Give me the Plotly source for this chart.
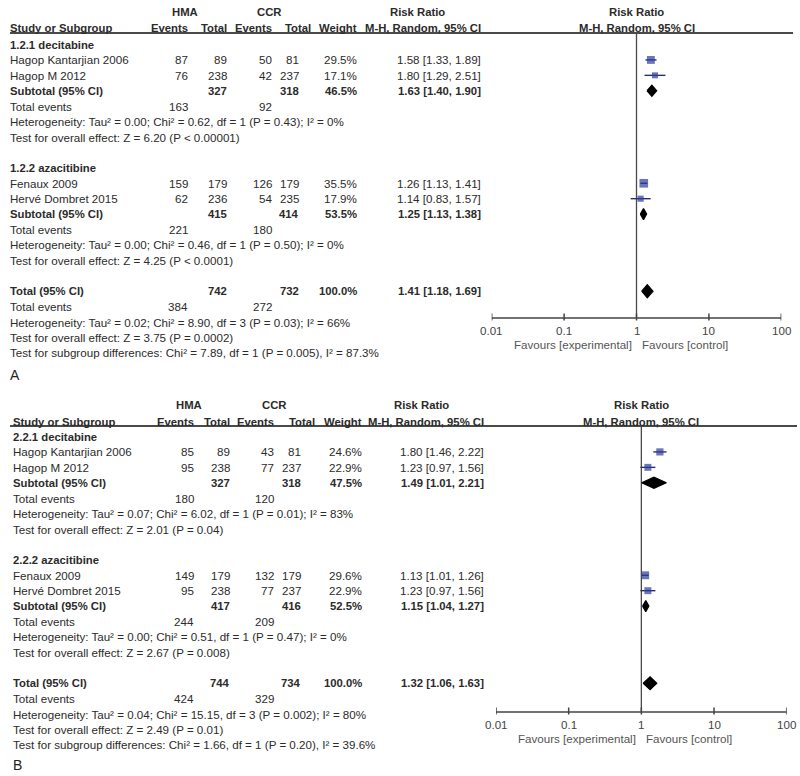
import math
import plotly.graph_objects as go

# ---------------- DATA ----------------
studies = ["Hagop Kantarjian 2006", "Hagop M 2012", "Fenaux 2009", "Hervé Dombret 2015"]
study_group = [0, 0, 1, 1]

# Panel A
groups_A = ["1.2.1 decitabine", "1.2.2 azacitibine"]
hma_events_A = [87, 76, 159, 62]
hma_total_A = [89, 238, 179, 236]
ccr_events_A = [50, 42, 126, 54]
ccr_total_A = [81, 237, 179, 235]
weight_A = [29.5, 17.1, 35.5, 17.9]
rr_A = [1.58, 1.80, 1.26, 1.14]
lo_A = [1.33, 1.29, 1.13, 0.83]
hi_A = [1.89, 2.51, 1.41, 1.57]
sub_hma_total_A = [327, 415]
sub_ccr_total_A = [318, 414]
sub_weight_A = [46.5, 53.5]
sub_rr_A = [1.63, 1.25]
sub_lo_A = [1.40, 1.13]
sub_hi_A = [1.90, 1.38]
sub_hma_events_A = [163, 221]
sub_ccr_events_A = [92, 180]
sub_het_A = ["Heterogeneity: Tau² = 0.00; Chi² = 0.62, df = 1 (P = 0.43); I² = 0%",
             "Heterogeneity: Tau² = 0.00; Chi² = 0.46, df = 1 (P = 0.50); I² = 0%"]
sub_test_A = ["Test for overall effect: Z = 6.20 (P < 0.00001)",
              "Test for overall effect: Z = 4.25 (P < 0.0001)"]
tot_A = dict(hma_total=742, ccr_total=732, weight=100.0, rr=1.41, lo=1.18, hi=1.69,
             hma_events=384, ccr_events=272)
tot_notes_A = ["Heterogeneity: Tau² = 0.02; Chi² = 8.90, df = 3 (P = 0.03); I² = 66%",
               "Test for overall effect: Z = 3.75 (P = 0.0002)",
               "Test for subgroup differences: Chi² = 7.89, df = 1 (P = 0.005), I² = 87.3%"]

# Panel B
groups_B = ["2.2.1 decitabine", "2.2.2 azacitibine"]
hma_events_B = [85, 95, 149, 95]
hma_total_B = [89, 238, 179, 238]
ccr_events_B = [43, 77, 132, 77]
ccr_total_B = [81, 237, 179, 237]
weight_B = [24.6, 22.9, 29.6, 22.9]
rr_B = [1.80, 1.23, 1.13, 1.23]
lo_B = [1.46, 0.97, 1.01, 0.97]
hi_B = [2.22, 1.56, 1.26, 1.56]
sub_hma_total_B = [327, 417]
sub_ccr_total_B = [318, 416]
sub_weight_B = [47.5, 52.5]
sub_rr_B = [1.49, 1.15]
sub_lo_B = [1.01, 1.04]
sub_hi_B = [2.21, 1.27]
sub_hma_events_B = [180, 244]
sub_ccr_events_B = [120, 209]
sub_het_B = ["Heterogeneity: Tau² = 0.07; Chi² = 6.02, df = 1 (P = 0.01); I² = 83%",
             "Heterogeneity: Tau² = 0.00; Chi² = 0.51, df = 1 (P = 0.47); I² = 0%"]
sub_test_B = ["Test for overall effect: Z = 2.01 (P = 0.04)",
              "Test for overall effect: Z = 2.67 (P = 0.008)"]
tot_B = dict(hma_total=744, ccr_total=734, weight=100.0, rr=1.32, lo=1.06, hi=1.63,
             hma_events=424, ccr_events=329)
tot_notes_B = ["Heterogeneity: Tau² = 0.04; Chi² = 15.15, df = 3 (P = 0.002); I² = 80%",
               "Test for overall effect: Z = 2.49 (P = 0.01)",
               "Test for subgroup differences: Chi² = 1.66, df = 1 (P = 0.20), I² = 39.6%"]

axis_ticks = [0.01, 0.1, 1, 10, 100]
axis_tick_labels = ["0.01", "0.1", "1", "10", "100"]
favours = ["Favours [experimental]", "Favours [control]"]
panel_letters = ["A", "B"]

# ---------------- LAYOUT / STYLE ----------------
W, H = 800, 776
FONT = "Liberation Sans, Arial, sans-serif"
TXT = "#2b2b2b"
GRAY = "#4a4a4a"
BLUE = "#2c3a9c"
NAVY = "#27306e"
FS = 11.6     # regular text size
FSB = 11.3    # bold text size

fig = go.Figure()
ann = []


def text(x, y, s, anchor="left", bold=False, size=None, color=TXT):
    if size is None:
        size = FSB if bold else FS
    if bold:
        s = "<b>" + s + "</b>"
    if anchor == "left":
        x -= 2
    elif anchor == "right":
        x += 2
    ann.append(dict(x=x / W, y=y, xref="paper", yref="y", text=s, showarrow=False,
                    xanchor=anchor, yanchor="middle",
                    font=dict(family=FONT, size=size, color=color)))


def rrtxt(r, l, h):
    return f"{r:.2f} [{l:.2f}, {h:.2f}]"


panels = [
    dict(data=dict(groups=groups_A, he=hma_events_A, ht=hma_total_A, ce=ccr_events_A, ct=ccr_total_A,
                   w=weight_A, rr=rr_A, lo=lo_A, hi=hi_A, sht=sub_hma_total_A, sct=sub_ccr_total_A,
                   sw=sub_weight_A, srr=sub_rr_A, slo=sub_lo_A, shi=sub_hi_A, she=sub_hma_events_A,
                   sce=sub_ccr_events_A, shet=sub_het_A, stest=sub_test_A, tot=tot_A, tnotes=tot_notes_A),
         xa="x2", h1=12, h2=28, rule=33, rule_x=(10, 793), base=44.5, axis_y=318,
         cols=dict(label=10, ev1=188, tot1=227, ev2=272, tot2=299, wt=357, rr=481, hma=183, ccr=267,
                   rrhead=417, tot2h=311),
         letter_y=375, dom=(491.7, 781.3)),
    dict(data=dict(groups=groups_B, he=hma_events_B, ht=hma_total_B, ce=ccr_events_B, ct=ccr_total_B,
                   w=weight_B, rr=rr_B, lo=lo_B, hi=hi_B, sht=sub_hma_total_B, sct=sub_ccr_total_B,
                   sw=sub_weight_B, srr=sub_rr_B, slo=sub_lo_B, shi=sub_hi_B, she=sub_hma_events_B,
                   sce=sub_ccr_events_B, shet=sub_het_B, stest=sub_test_B, tot=tot_B, tnotes=tot_notes_B),
         xa="x3", h1=405, h2=422, rule=426, rule_x=(10, 797), base=436.5, axis_y=712,
         cols=dict(label=13, ev1=194, tot1=230, ev2=274, tot2=301, wt=362, rr=484, hma=187, ccr=272,
                   rrhead=421, tot2h=315),
         letter_y=765, dom=(496.0, 786.7)),
]

STEP = 15.42

for pi, P in enumerate(panels):
    d, c, xa = P["data"], P["cols"], P["xa"]

    def ry(slot):
        return P["base"] + slot * STEP

    # headers
    text(c["hma"] + 2, P["h1"], "HMA", "center", True)
    text(c["ccr"] + 2, P["h1"], "CCR", "center", True)
    text(c["rrhead"], P["h1"], "Risk Ratio", "center", True)
    text(c["label"], P["h2"], "Study or Subgroup", "left", True)
    text(c["ev1"], P["h2"], "Events", "right", True)
    text(c["tot1"], P["h2"], "Total", "right", True)
    text(c["ev2"], P["h2"], "Events", "right", True)
    text(c["tot2h"], P["h2"], "Total", "right", True)
    text(c["wt"], P["h2"], "Weight", "right", True)
    text(c["rr"], P["h2"], "M-H, Random, 95% CI", "right", True)

    # header rule
    fig.add_trace(go.Scatter(x=[P["rule_x"][0], P["rule_x"][1]], y=[P["rule"], P["rule"]],
                             mode="lines", line=dict(color=GRAY, width=1.8), xaxis="x", yaxis="y",
                             hoverinfo="skip", showlegend=False))

    # plot header
    ann.append(dict(x=0, y=P["h1"], xref=xa, yref="y", text="<b>Risk Ratio</b>", showarrow=False,
                    xanchor="center", yanchor="middle", font=dict(family=FONT, size=FSB, color=TXT)))
    ann.append(dict(x=0, y=P["h2"], xref=xa, yref="y", text="<b>M-H, Random, 95% CI</b>", showarrow=False,
                    xanchor="center", yanchor="middle", font=dict(family=FONT, size=FSB, color=TXT)))

    study_slots = []
    sub_slots = []
    for g in range(2):
        s0 = g * 8
        text(c["label"], ry(s0), d["groups"][g], "left", True)
        idx = [i for i in range(len(studies)) if study_group[i] == g]
        for k, i in enumerate(idx):
            y = ry(s0 + 1 + k)
            study_slots.append(y)
            text(c["label"], y, studies[i])
            text(c["ev1"], y, str(d["he"][i]), "right")
            text(c["tot1"], y, str(d["ht"][i]), "right")
            text(c["ev2"], y, str(d["ce"][i]), "right")
            text(c["tot2"], y, str(d["ct"][i]), "right")
            text(c["wt"], y, f"{d['w'][i]:.1f}%", "right")
            text(c["rr"], y, rrtxt(d["rr"][i], d["lo"][i], d["hi"][i]), "right")
        ys = ry(s0 + 3)
        sub_slots.append(ys)
        text(c["label"], ys, "Subtotal (95% CI)", "left", True)
        text(c["tot1"], ys, str(d["sht"][g]), "right", True)
        text(c["tot2"], ys, str(d["sct"][g]), "right", True)
        text(c["wt"], ys, f"{d['sw'][g]:.1f}%", "right", True)
        text(c["rr"], ys, rrtxt(d["srr"][g], d["slo"][g], d["shi"][g]), "right", True)
        text(c["label"], ry(s0 + 4), "Total events")
        text(c["ev1"], ry(s0 + 4), str(d["she"][g]), "right")
        text(c["ev2"], ry(s0 + 4), str(d["sce"][g]), "right")
        text(c["label"], ry(s0 + 5), d["shet"][g])
        text(c["label"], ry(s0 + 6), d["stest"][g])

    t = d["tot"]
    yt = ry(16)
    text(c["label"], yt, "Total (95% CI)", "left", True)
    text(c["tot1"], yt, str(t["hma_total"]), "right", True)
    text(c["tot2"], yt, str(t["ccr_total"]), "right", True)
    text(c["wt"], yt, f"{t['weight']:.1f}%", "right", True)
    text(c["rr"], yt, rrtxt(t["rr"], t["lo"], t["hi"]), "right", True)
    text(c["label"], ry(17), "Total events")
    text(c["ev1"], ry(17), str(t["hma_events"]), "right")
    text(c["ev2"], ry(17), str(t["ccr_events"]), "right")
    for k, note in enumerate(d["tnotes"]):
        text(c["label"], ry(18 + k), note)
    text(c["label"], P["letter_y"], panel_letters[pi], "left", False, 14, "#222222")

    ya = "y"
    # reference line at 1
    fig.add_trace(go.Scatter(x=[1, 1], y=[P["rule"], P["axis_y"]], mode="lines",
                             line=dict(color=GRAY, width=1.3), xaxis=xa, yaxis=ya,
                             hoverinfo="skip", showlegend=False))
    # axis
    fig.add_trace(go.Scatter(x=[axis_ticks[0], axis_ticks[-1]], y=[P["axis_y"]] * 2, mode="lines",
                             line=dict(color="#444444", width=1.5), xaxis=xa, yaxis=ya,
                             hoverinfo="skip", showlegend=False))
    tx, ty = [], []
    for tv in axis_ticks:
        tx += [tv, tv, None]
        ty += [P["axis_y"] - 4.5, P["axis_y"] + 2.5, None]
    fig.add_trace(go.Scatter(x=tx, y=ty, mode="lines", line=dict(color="#444444", width=1.5),
                             xaxis=xa, yaxis=ya, hoverinfo="skip", showlegend=False))
    for tv, tl in zip(axis_ticks, axis_tick_labels):
        ann.append(dict(x=math.log10(tv), y=P["axis_y"] + 12, xref=xa, yref="y", text=tl,
                        showarrow=False, xanchor="center", yanchor="middle",
                        font=dict(family=FONT, size=FS, color="#444444")))
    ann.append(dict(x=0, y=P["axis_y"] + 26.5, xref=xa, yref="y", text=favours[0], showarrow=False,
                    xanchor="right", yanchor="middle", xshift=-3,
                    font=dict(family=FONT, size=FS, color="#555555")))
    ann.append(dict(x=0, y=P["axis_y"] + 26.5, xref=xa, yref="y", text=favours[1], showarrow=False,
                    xanchor="left", yanchor="middle", xshift=3,
                    font=dict(family=FONT, size=FS, color="#555555")))

    # study CIs and squares
    cx, cy = [], []
    for i, y in enumerate(study_slots):
        cx += [d["lo"][i], d["hi"][i], None]
        cy += [y, y, None]
    fig.add_trace(go.Scatter(x=cx, y=cy, mode="lines", line=dict(color=NAVY, width=1.4),
                             xaxis=xa, yaxis=ya, hoverinfo="skip", showlegend=False))
    fig.add_trace(go.Scatter(x=d["rr"], y=study_slots, mode="markers",
                             marker=dict(symbol="square", color=BLUE,
                                         size=[1.45 * math.sqrt(w) for w in d["w"]],
                                         line=dict(width=0)),
                             xaxis=xa, yaxis=ya, hoverinfo="skip", showlegend=False))

    # diamonds
    dlist = [(d["srr"][g], d["slo"][g], d["shi"][g], sub_slots[g], 5.5) for g in range(2)]
    dlist.append((t["rr"], t["lo"], t["hi"], yt, 6.5))
    for (r, l, h, y, hh) in dlist:
        fig.add_trace(go.Scatter(x=[l, r, h, r, l], y=[y, y - hh, y, y + hh, y], mode="lines",
                                 fill="toself", fillcolor="black", line=dict(color="black", width=1.2),
                                 xaxis=xa, yaxis=ya, hoverinfo="skip", showlegend=False))

fig.update_layout(
    width=W, height=H, margin=dict(l=0, r=0, t=0, b=0),
    paper_bgcolor="white", plot_bgcolor="rgba(0,0,0,0)", showlegend=False,
    xaxis=dict(visible=False, range=[0, W], domain=[0, 1], anchor="y"),
    xaxis2=dict(visible=False, type="log", range=[-2, 2],
                domain=[panels[0]["dom"][0] / W, panels[0]["dom"][1] / W], anchor="y"),
    xaxis3=dict(visible=False, type="log", range=[-2, 2],
                domain=[panels[1]["dom"][0] / W, panels[1]["dom"][1] / W], anchor="y"),
    yaxis=dict(visible=False, range=[H, 0], domain=[0, 1]),
    annotations=ann,
)

fig.write_html("out.html", config={"displayModeBar": False},
               post_script="document.body.style.margin='0px';")
